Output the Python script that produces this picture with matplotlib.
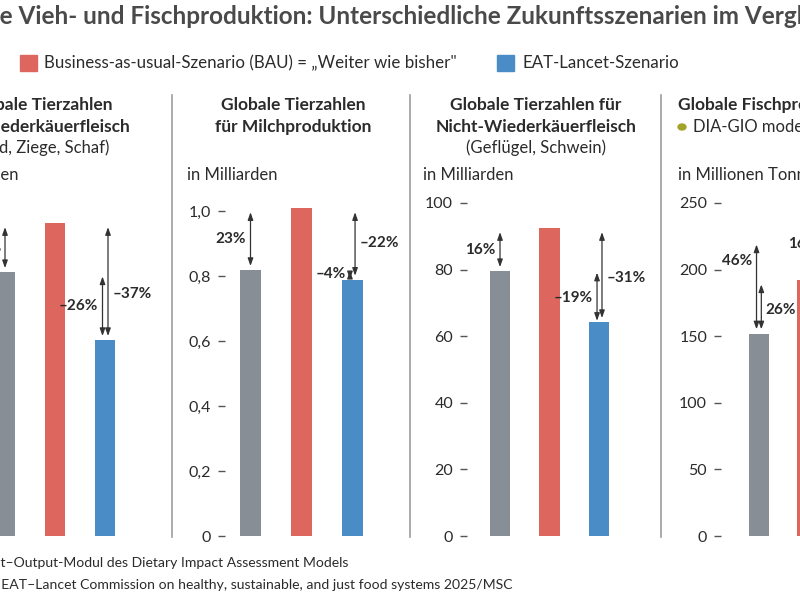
import matplotlib
matplotlib.use("Agg")
import matplotlib.pyplot as plt
from matplotlib.patches import Rectangle, Circle
from matplotlib.lines import Line2D

# --- data ---
scenarios = ["Heute", "BAU", "EAT-Lancet"]
ruminants = [3.96, 4.70, 2.94]          # Mrd. Tiere
dairy = [0.818, 1.009, 0.788]           # Mrd. Tiere
non_ruminants = [79.5, 92.5, 64.2]      # Mrd. Tiere
fish = [152, 192]                       # Mio. t (EAT-Lancet bar off-picture)
fish_dia_gio = 222                      # DIA-GIO model

dairy_ticks = [0, 0.2, 0.4, 0.6, 0.8, 1.0]
dairy_ticklabels = ["0", "0,2", "0,4", "0,6", "0,8", "1,0"]
non_rum_ticks = [0, 20, 40, 60, 80, 100]
fish_ticks = [0, 50, 100, 150, 200, 250]
rum_ticks = [0, 1, 2, 3, 4, 5]

TITLE = "Globale Vieh- und Fischproduktion: Unterschiedliche Zukunftsszenarien im Vergleich"
LEGEND_BAU = "Business-as-usual-Szenario (BAU) = \u201eWeiter wie bisher\""
LEGEND_EAT = "EAT-Lancet-Szenario"
NOTE_1 = "DIA-GIO = Global Input\u2013Output-Modul des Dietary Impact Assessment Models"
NOTE_2 = "Quelle: EAT\u2013Lancet Commission on healthy, sustainable, and just food systems 2025/MSC"

colors = ["#878e96", "#dd675f", "#4a8dc6"]
text_col = "#2b2b2b"
arrow_col = "#333333"

plt.rcParams['font.family'] = ['Lato', 'DejaVu Sans']

W, H = 800, 600
fig = plt.figure(figsize=(8, 6), dpi=100)
fig.patch.set_facecolor("white")


def fx(px):
    return px / W


def fy(py):
    return 1 - py / H


Y0, YTOP = 536, 203   # pixel rows of value 0 and of the axes top


def draw_panel(spine_px, xmin, spacing, values, ymax, ticks, ticklabels, arrows):
    xmax = 2.6
    ax = fig.add_axes([fx(spine_px), fy(Y0), spacing * (xmax - xmin) / W, (Y0 - YTOP) / H])
    ax.bar(range(len(values)), values, width=0.41, color=colors[:len(values)])
    ax.set_xlim(xmin, xmax)
    ax.set_ylim(0, ymax)
    ax.set_yticks(ticks)
    ax.set_yticklabels(ticklabels)
    ax.set_xticks([])
    for s in ax.spines.values():
        s.set_visible(False)
    ax.tick_params(axis="y", length=5, width=1, color="#555555", pad=5,
                   labelsize=11.5, labelcolor=text_col)
    ax.patch.set_alpha(0)
    for x, y1, y2, label, side, dy, shrink in arrows:
        ax.annotate("", xy=(x, y2), xytext=(x, y1),
                    arrowprops=dict(arrowstyle="<|-|>,head_length=0.45,head_width=0.16",
                                    color=arrow_col, lw=0.9,
                                    shrinkA=shrink, shrinkB=shrink))
        off = -3 if side == "left" else 3
        ax.annotate(label, xy=(x, (y1 + y2) / 2), xytext=(off, dy),
                    textcoords="offset points", va="center",
                    ha="right" if side == "left" else "left",
                    fontsize=11, fontweight="bold", color=text_col)
    return ax


# panel 1: ruminant meat (left part cut off)
draw_panel(-20, -0.5, 50, ruminants, 5.0, rum_ticks, [str(t) for t in rum_ticks], [
    (0, ruminants[0], ruminants[1], "19%", "left", 0, 3),
    (1.95, ruminants[0], ruminants[2], "\u201326%", "left", 0, 3),
    (2.06, ruminants[1], ruminants[2], "\u201337%", "right", -9, 3),
])
# panel 2: dairy
draw_panel(225, -0.5, 51, dairy, 333 / 325, dairy_ticks, dairy_ticklabels, [
    (0, dairy[0], dairy[1], "23%", "left", 0, 3),
    (1.95, dairy[0], dairy[2], "\u20134%", "left", 1, 0.5),
    (2.05, dairy[1], dairy[2], "\u201322%", "right", 1, 3),
])
# panel 3: non-ruminant meat
draw_panel(467, -0.667, 49.5, non_ruminants, 100, non_rum_ticks,
           [str(t) for t in non_rum_ticks], [
    (0, non_ruminants[0], non_ruminants[1], "16%", "left", 0, 3),
    (1.96, non_ruminants[0], non_ruminants[2], "\u201319%", "left", -1, 1),
    (2.06, non_ruminants[1], non_ruminants[2], "\u201331%", "right", -2, 3),
])
# panel 4: fish (right part cut off)
draw_panel(721, -0.79, 48, fish, 250, fish_ticks, [str(t) for t in fish_ticks], [
    (-0.05, fish[0], fish_dia_gio, "46%", "left", 19, 3),
    (0.05, fish[0], fish[1], "26%", "right", -2, 3),
    (1.33, fish[1], fish_dia_gio, "16%", "left", 12, 3),
])

# separators between panels
for xs in [172, 410, 661]:
    fig.add_artist(Line2D([fx(xs), fx(xs)], [fy(95), fy(537)], color="#9d9d9d", lw=1.2))

# title: starts left of the picture, so shift by the width of "Global"
title_kw = dict(fontsize=17.5, fontweight="bold", color="#4a4a4a", va="center")
t = fig.text(0, fy(17), TITLE, ha="left", **title_kw)
r = fig.canvas.get_renderer()
tmp = fig.text(0, 0, "Global", **title_kw)
t.set_x(-tmp.get_window_extent(r).width / W)
tmp.remove()

# legend row
fig.add_artist(Rectangle((fx(20), fy(71)), 17 / W, 16 / H, color=colors[1],
                         transform=fig.transFigure))
fig.text(fx(44), fy(63), LEGEND_BAU, fontsize=12.2, color=text_col, va="center")
fig.add_artist(Rectangle((fx(497), fy(71)), 17 / W, 16 / H, color=colors[2],
                         transform=fig.transFigure))
fig.text(fx(523), fy(63), LEGEND_EAT, fontsize=12.2, color=text_col, va="center")

# panel headings
head = dict(fontsize=12.5, fontweight="bold", color=text_col, va="center")
sub = dict(fontsize=12, color=text_col, va="center")
fig.text(fx(40), fy(105), "Globale Tierzahlen", ha="center", **head)
fig.text(fx(40), fy(127), "f\u00fcr Wiederk\u00e4uerfleisch", ha="center", **head)
fig.text(fx(40), fy(148), "(Rind, Ziege, Schaf)", ha="center", **sub)
fig.text(fx(18), fy(175), "in Milliarden", ha="right", **sub)

fig.text(fx(293), fy(105), "Globale Tierzahlen", ha="center", **head)
fig.text(fx(293), fy(127), "f\u00fcr Milchproduktion", ha="center", **head)
fig.text(fx(187), fy(175), "in Milliarden", ha="left", **sub)

fig.text(fx(536), fy(105), "Globale Tierzahlen f\u00fcr", ha="center", **head)
fig.text(fx(536), fy(127), "Nicht-Wiederk\u00e4uerfleisch", ha="center", **head)
fig.text(fx(536), fy(148), "(Gefl\u00fcgel, Schwein)", ha="center", **sub)
fig.text(fx(423), fy(175), "in Milliarden", ha="left", **sub)

fig.text(fx(678), fy(105), "Globale Fischproduktion", ha="left", **head)
fig.add_artist(Circle((fx(682), fy(127)), 4 / W, color="#a3a32a", transform=fig.transFigure))
fig.text(fx(693), fy(127), "DIA-GIO model", ha="left", **sub)
fig.text(fx(678), fy(175), "in Millionen Tonnen", ha="left", **sub)

# notes
fig.text(fx(348), fy(563), NOTE_1, ha="right", va="center", fontsize=10.1, color=text_col)
fig.text(fx(512), fy(585), NOTE_2, ha="right", va="center", fontsize=10.1, color=text_col)

fig.savefig("out.png", dpi=100)
plt.close(fig)
